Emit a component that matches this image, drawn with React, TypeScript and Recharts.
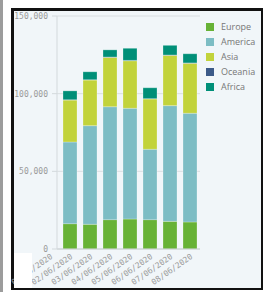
import React from "react";
import { BarChart, Bar, XAxis, YAxis, CartesianGrid } from "recharts";

const dates = [
  "01/06/2020",
  "02/06/2020",
  "03/06/2020",
  "04/06/2020",
  "05/06/2020",
  "06/06/2020",
  "07/06/2020",
  "08/06/2020",
];
const europe = [33000, 16300, 15900, 18900, 19300, 18900, 17800, 17400];
const america = [36000, 52600, 63500, 72700, 71300, 45300, 74500, 70000];
const asia = [7000, 27000, 29400, 31800, 30600, 32400, 32400, 32200];
const oceania = [150, 200, 180, 200, 220, 200, 210, 190];
const africa = [1500, 5700, 5100, 4600, 7800, 7000, 6200, 5900];
const yTicks = [0, 50000, 100000, 150000];

const series = [
  { key: "Europe", color: "#67b236", values: europe },
  { key: "America", color: "#7dbdc4", values: america },
  { key: "Asia", color: "#c2d33b", values: asia },
  { key: "Oceania", color: "#3c5a88", values: oceania },
  { key: "Africa", color: "#008f78", values: africa },
];

const data = dates.map((d, i) => {
  const row: any = { idx: i + 1, date: d };
  series.forEach((s) => (row[s.key] = s.values[i]));
  return row;
});

const mono = "'DejaVu Sans Mono', monospace";

export default function App() {
  return (
    <div
      style={{
        position: "fixed",
        left: 0,
        top: 0,
        width: 277,
        height: 292,
        background: "#fff",
        overflow: "hidden",
      }}
    >
      {/* gray strip on the left */}
      <div style={{ position: "absolute", left: 0, top: 0, width: 3, height: 292, background: "#9c9c9c" }} />
      {/* black frame */}
      <div
        style={{
          position: "absolute",
          left: 11,
          top: 8,
          width: 252,
          height: 282,
          boxSizing: "border-box",
          borderStyle: "solid",
          borderColor: "#111",
          borderWidth: "3px 2px 2px 3px",
          background: "#f1f6f9",
        }}
      />
      <div style={{ position: "absolute", left: 0, top: 0 }}>
        <BarChart
          width={277}
          height={292}
          data={data}
          margin={{ top: 16, right: 77, left: 12, bottom: 0 }}
        >
          <CartesianGrid vertical={false} stroke="#d9dee1" />
          <XAxis
            dataKey="idx"
            type="number"
            domain={[1.35, 8.5]}
            allowDataOverflow
            ticks={[1, 2, 3, 4, 5, 6, 7, 8]}
            interval={0}
            tickFormatter={(v) => dates[v - 1]}
            height={43}
            stroke="#c9cfd2"
            tickLine={false}
            tickSize={0}
            tickMargin={4}
            angle={-35}
            textAnchor="end"
            tick={{ fontSize: 8, fontFamily: mono, fill: "#9a9a9a" }}
          />
          <YAxis
            width={45}
            domain={[0, 150000]}
            ticks={yTicks}
            tickFormatter={(v) => v.toLocaleString("en-US")}
            stroke="#d3d9dc"
            tickSize={5}
            tickMargin={4}
            tick={{ fontSize: 8, fontFamily: mono, fill: "#9a9a9a" }}
          />
          {series.map((s) => (
            <Bar
              key={s.key}
              dataKey={s.key}
              stackId="a"
              fill={s.color}
              barSize={14}
              stroke="rgba(255,255,255,0.25)"
              strokeWidth={1}
              isAnimationActive={false}
            />
          ))}
        </BarChart>
      </div>
      {/* white patch over the first label */}
      <div style={{ position: "absolute", left: 14, top: 253, width: 18, height: 35, background: "#fff" }} />
      {/* legend */}
      <div style={{ position: "absolute", left: 206, top: 19 }}>
        {series.map((s) => (
          <div
            key={s.key}
            style={{
              display: "flex",
              alignItems: "center",
              height: 15,
              fontFamily: "'Open Sans', sans-serif",
              fontSize: 9,
              color: "#777",
            }}
          >
            <span style={{ width: 8, height: 8, background: s.color, marginRight: 7 }} />
            <span>{s.key}</span>
          </div>
        ))}
      </div>
    </div>
  );
}
